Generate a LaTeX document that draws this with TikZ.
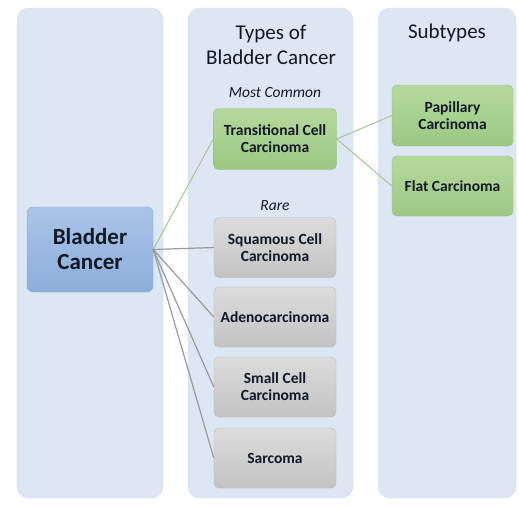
\documentclass[tikz,border=0pt]{standalone}
\usepackage{fontspec}
\setmainfont{Carlito}
\usetikzlibrary{calc,positioning}
\definecolor{PanelFill}{HTML}{DDE7F3}
\definecolor{PanelEdge}{HTML}{D3DDEA}
\definecolor{BlueTop}{HTML}{A9C4E6}
\definecolor{BlueBot}{HTML}{8CAEDB}
\definecolor{GreenTop}{HTML}{B5D99D}
\definecolor{GreenBot}{HTML}{9BC882}
\definecolor{GreyTop}{HTML}{DCDCDC}
\definecolor{GreyBot}{HTML}{C3C3C3}
\definecolor{GreenLine}{HTML}{A8C69A}
\definecolor{GreyLine}{HTML}{9A9A9A}
\definecolor{InkDark}{HTML}{121826}

\begin{document}
\begin{tikzpicture}[x=1pt,y=-1pt,every node/.style={align=center,text=InkDark},
  panel/.style={fill=PanelFill,draw=PanelEdge,rounded corners=12pt,inner sep=0pt},
  bluebox/.style={top color=BlueTop,bottom color=BlueBot,draw=BlueBot!95!black,rounded corners=6pt,font=\bfseries\fontsize{23}{25}\selectfont},
  greenbox/.style={top color=GreenTop,bottom color=GreenBot,draw=GreenBot!95!black,rounded corners=5pt,minimum width=123pt,minimum height=61pt,font=\bfseries\fontsize{15.5}{17}\selectfont},
  greybox/.style={top color=GreyTop,bottom color=GreyBot,draw=GreyBot!95!black,rounded corners=5pt,minimum width=122pt,minimum height=60pt,font=\bfseries\fontsize{15.5}{17}\selectfont},
  header/.style={font=\fontsize{21}{25}\selectfont},
  tag/.style={font=\itshape\fontsize{15.5}{18}\selectfont}]
\useasboundingbox (0,0) rectangle (519,506);
% columns
\node [panel,minimum width=146pt,minimum height=490pt] (CausePanel) at (90,253) {};
\node [panel,minimum width=165pt,minimum height=490pt] (TypesPanel) at (270.5,253) {};
\node [panel,minimum width=138pt,minimum height=490pt] (SubtypesPanel) at (447,253) {};
\node [header] (TypesTitle) at (271,45) {Types of\\Bladder Cancer};
\node [header] (SubtypesTitle) at (447,33) {Subtypes};
% main node
\node [bluebox,minimum width=126pt,minimum height=85pt] (BladderCancer) at (90,249.5) {Bladder\\Cancer};
% types
\node [tag] (MostCommon) at (275,93) {Most Common};
\node [greenbox] (Transitional) at (275,139) {Transitional Cell\\Carcinoma};
\node [tag] (Rare) at (275,206) {Rare};
\node [greybox] (Squamous) at (275,247.5) {Squamous Cell\\Carcinoma};
\node [greybox] (Adeno) at (275,317) {Adenocarcinoma};
\node [greybox] (SmallCell) at (275,387) {Small Cell\\Carcinoma};
\node [greybox] (Sarcoma) at (275,458) {Sarcoma};
% subtypes
\node [greenbox,minimum width=121pt] (Papillary) at (452.5,115.5) {Papillary\\Carcinoma};
\node [greenbox,minimum width=121pt,minimum height=60pt] (Flat) at (452.5,186) {Flat Carcinoma};
% connectors
\draw [GreenLine,line width=1pt] (BladderCancer.east) -- (Transitional.west);
\foreach \t in {Squamous,Adeno,SmallCell,Sarcoma}
  \draw [GreyLine,line width=1.2pt] (BladderCancer.east) -- (\t.west);
\draw [GreenLine,line width=1pt] (Transitional.east) -- (Papillary.west);
\draw [GreenLine,line width=1pt] (Transitional.east) -- (Flat.west);
\end{tikzpicture}
\end{document}
